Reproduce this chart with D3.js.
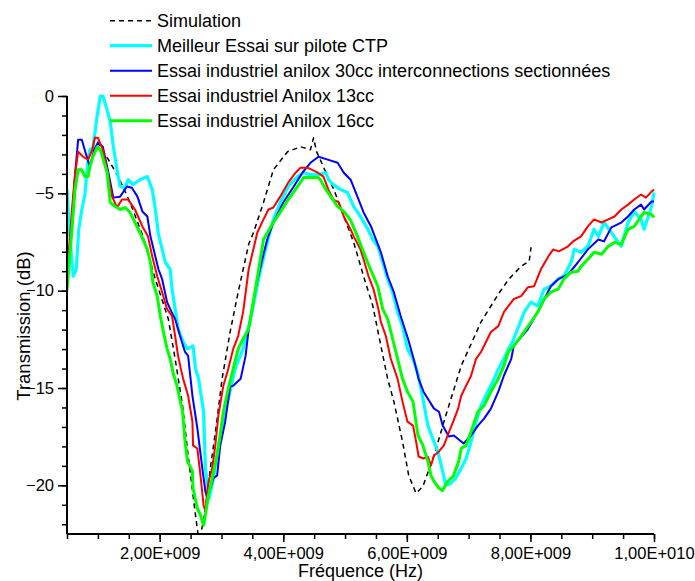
<!DOCTYPE html>
<html>
<head>
<meta charset="utf-8">
<script src="https://cdn.jsdelivr.net/npm/d3@7"></script>
<style>
  html, body { margin: 0; padding: 0; background: #fff; }
  svg { display: block; font-family: "Liberation Sans", Arial, sans-serif; }
</style>
</head>
<body>
<svg id="chart" width="695" height="581"></svg>
<script>
// ---- Data (frequency in GHz, transmission in dB) ----
const seriesNames = [
  "Simulation",
  "Meilleur Essai sur pilote CTP",
  "Essai industriel anilox 30cc interconnections sectionnées",
  "Essai industriel Anilox 13cc",
  "Essai industriel Anilox 16cc"
];

const simulation = [
  [0.99,-2.35],[1.17,-3.27],[1.33,-4.14],[1.52,-5.47],[1.73,-7.21],[1.93,-9.41],[2.14,-11.46],
  [2.25,-13.5],[2.37,-15.91],[2.46,-18.47],[2.58,-21.54],[2.64,-22.97],[2.74,-21.2],[2.82,-19.13],
  [2.92,-16.83],[3.01,-14.53],[3.14,-12.12],[3.27,-10.08],[3.44,-7.62],[3.52,-7.0],[3.68,-5.47],
  [3.84,-3.79],[4.07,-2.86],[4.28,-2.61],[4.44,-2.76],[4.49,-2.15],[4.54,-2.86],[4.72,-4.14],
  [4.82,-4.81],[4.98,-6.19],[5.14,-7.52],[5.30,-9.26],[5.45,-10.79],[5.58,-12.84],[5.69,-14.53],
  [5.79,-15.7],[5.93,-17.75],[6.03,-19.49],[6.15,-20.41],[6.26,-20.05],[6.44,-18.47],[6.63,-16.42],
  [6.88,-13.86],[7.2,-11.61],[7.48,-10.18],[7.65,-9.41],[7.85,-8.75],[7.98,-8.49],[8.01,-7.77]
];

const piloteCTP = [
  [0.50,-4.81],[0.55,-7.37],[0.60,-9.26],[0.65,-8.90],[0.69,-6.85],[0.74,-5.83],[0.79,-5.06],
  [0.84,-3.27],[0.87,-2.76],[0.92,-2.66],[0.99,-0.97],[1.04,0],[1.08,0],[1.15,-0.72],[1.20,-1.33],
  [1.25,-2.61],[1.31,-3.79],[1.36,-4.65],[1.44,-4.71],[1.49,-4.30],[1.57,-4.55],[1.68,-4.30],
  [1.80,-4.14],[1.88,-4.81],[1.93,-5.83],[1.98,-7.11],[2.04,-7.88],[2.09,-8.54],[2.17,-8.90],
  [2.20,-9.92],[2.25,-10.95],[2.30,-11.97],[2.38,-12.63],[2.45,-12.99],[2.54,-12.84],[2.58,-14.02],
  [2.63,-14.53],[2.71,-16.22],[2.74,-19.13],[2.80,-20.66],[2.87,-19.64],[2.93,-18.36],[3.01,-16.83],
  [3.11,-15.55],[3.23,-13.91],[3.35,-12.99],[3.47,-11.46],[3.60,-9.41],[3.74,-7.52],[3.84,-6.34],
  [3.95,-5.47],[4.08,-4.65],[4.23,-4.14],[4.33,-3.94],[4.44,-4.04],[4.56,-4.04],[4.69,-3.94],
  [4.73,-4.30],[4.81,-4.55],[4.93,-4.81],[5.04,-4.96],[5.14,-5.68],[5.25,-6.19],[5.37,-6.85],
  [5.45,-7.37],[5.53,-7.72],[5.61,-8.54],[5.69,-9.41],[5.77,-10.08],[5.85,-11.10],[5.93,-11.82],
  [6.01,-12.99],[6.10,-13.50],[6.18,-14.27],[6.26,-15.55],[6.34,-16.93],[6.42,-17.60],[6.50,-18.26],
  [6.58,-19.28],[6.63,-20.00],[6.71,-19.90],[6.79,-19.64],[6.88,-19.13],[6.96,-18.62],[7.04,-17.75],
  [7.12,-16.73],[7.20,-15.91],[7.31,-15.19],[7.39,-14.68],[7.48,-14.02],[7.57,-13.50],[7.73,-12.48],
  [7.90,-11.10],[8.01,-10.59],[8.12,-10.79],[8.22,-9.92],[8.33,-9.77],[8.45,-9.41],[8.54,-9.26],
  [8.66,-8.54],[8.71,-7.88],[8.82,-8.03],[8.93,-7.72],[9.03,-6.85],[9.10,-7.21],[9.19,-6.50],
  [9.31,-7.01],[9.42,-7.52],[9.47,-7.72],[9.58,-6.50],[9.68,-5.93],[9.79,-6.34],[9.84,-6.85],
  [9.96,-5.68],[10.0,-4.96]
];

const anilox30 = [
  [0.50,-9.26],[0.58,-6.34],[0.63,-4.04],[0.68,-2.25],[0.74,-2.25],[0.81,-3.02],[0.87,-3.63],
  [0.94,-2.76],[1.00,-2.40],[1.08,-2.61],[1.17,-3.94],[1.25,-5.22],[1.36,-5.17],[1.47,-4.65],
  [1.55,-4.71],[1.64,-5.17],[1.72,-5.93],[1.80,-6.19],[1.85,-7.21],[1.93,-8.24],[1.98,-8.90],
  [2.04,-9.41],[2.12,-10.59],[2.17,-10.95],[2.25,-11.46],[2.33,-12.33],[2.41,-13.15],[2.46,-13.35],
  [2.53,-15.40],[2.61,-17.08],[2.69,-19.13],[2.74,-20.31],[2.77,-20.66],[2.82,-20.15],[2.87,-19.64],
  [2.93,-19.49],[2.98,-17.95],[3.06,-16.73],[3.14,-14.94],[3.19,-14.88],[3.31,-14.53],[3.39,-13.35],
  [3.44,-11.97],[3.55,-9.92],[3.66,-8.39],[3.74,-7.37],[3.84,-6.50],[4.00,-5.47],[4.17,-4.65],
  [4.31,-3.94],[4.44,-3.43],[4.57,-3.12],[4.72,-3.27],[4.88,-3.43],[4.98,-3.94],[5.09,-4.30],
  [5.20,-5.17],[5.30,-5.98],[5.42,-6.70],[5.50,-7.37],[5.58,-8.03],[5.69,-9.26],[5.79,-10.08],
  [5.90,-11.30],[6.02,-12.48],[6.11,-13.50],[6.19,-14.53],[6.27,-15.19],[6.44,-16.06],[6.52,-16.22],
  [6.58,-16.93],[6.68,-17.49],[6.76,-17.44],[6.92,-17.85],[7.04,-17.44],[7.15,-16.93],[7.25,-16.57],
  [7.36,-16.06],[7.48,-15.19],[7.57,-14.37],[7.69,-13.50],[7.73,-12.84],[7.96,-11.97],[8.17,-10.79],
  [8.33,-9.77],[8.45,-9.41],[8.61,-9.16],[8.77,-8.54],[8.93,-7.88],[9.10,-7.37],[9.19,-7.47],
  [9.31,-6.75],[9.47,-6.50],[9.58,-6.19],[9.68,-5.83],[9.79,-5.58],[9.84,-5.83],[9.96,-5.42],[10.0,-5.42]
];

const anilox13 = [
  [0.50,-9.41],[0.58,-5.83],[0.63,-4.04],[0.68,-2.86],[0.76,-3.12],[0.84,-3.27],[0.91,-2.76],
  [0.95,-2.15],[1.00,-2.15],[1.08,-2.76],[1.15,-3.79],[1.23,-5.17],[1.31,-5.73],[1.39,-5.32],
  [1.49,-5.32],[1.60,-5.83],[1.72,-6.70],[1.81,-7.21],[1.88,-8.24],[1.96,-9.26],[2.04,-10.08],
  [2.12,-10.95],[2.20,-11.30],[2.25,-12.33],[2.30,-13.40],[2.38,-14.53],[2.46,-15.40],[2.53,-16.73],
  [2.54,-17.95],[2.61,-18.11],[2.66,-19.49],[2.71,-21.02],[2.74,-21.33],[2.79,-19.80],[2.85,-19.13],
  [2.90,-17.95],[2.95,-16.42],[3.03,-14.88],[3.11,-14.02],[3.19,-12.99],[3.27,-12.33],[3.35,-11.10],
  [3.44,-8.90],[3.58,-7.01],[3.68,-6.34],[3.76,-5.83],[3.84,-5.73],[3.95,-5.17],[4.08,-4.45],
  [4.20,-3.94],[4.28,-3.68],[4.39,-3.68],[4.56,-3.94],[4.65,-4.14],[4.73,-4.81],[4.81,-5.32],
  [4.90,-5.47],[4.98,-6.19],[5.09,-6.85],[5.14,-7.21],[5.25,-7.88],[5.30,-8.39],[5.38,-9.26],
  [5.46,-9.92],[5.54,-10.95],[5.58,-11.61],[5.66,-12.33],[5.74,-13.50],[5.85,-14.53],[5.93,-15.70],
  [6.01,-16.73],[6.10,-16.93],[6.15,-17.75],[6.19,-18.52],[6.27,-18.62],[6.34,-18.52],[6.39,-18.98],
  [6.44,-18.47],[6.52,-18.26],[6.60,-17.95],[6.66,-17.44],[6.75,-16.73],[6.83,-16.06],[6.88,-15.40],
  [6.96,-14.88],[7.04,-14.37],[7.12,-13.50],[7.20,-13.15],[7.36,-12.12],[7.48,-11.82],[7.57,-11.10],
  [7.73,-10.43],[7.85,-10.28],[7.96,-9.82],[8.06,-9.77],[8.17,-8.90],[8.29,-8.24],[8.37,-7.88],
  [8.46,-7.98],[8.61,-7.72],[8.69,-7.47],[8.82,-7.21],[8.93,-6.70],[9.03,-6.34],[9.15,-6.50],
  [9.26,-6.34],[9.36,-6.19],[9.47,-5.83],[9.58,-5.58],[9.68,-5.32],[9.79,-5.06],[9.87,-5.22],
  [9.96,-4.91],[10.0,-4.81]
];

const anilox16 = [
  [0.50,-9.97],[0.58,-6.85],[0.63,-4.81],[0.68,-3.79],[0.74,-3.79],[0.79,-4.14],[0.84,-4.14],
  [0.87,-3.63],[0.92,-3.12],[0.99,-2.61],[1.04,-2.76],[1.15,-3.94],[1.20,-5.47],[1.28,-5.68],
  [1.36,-5.83],[1.44,-5.73],[1.52,-5.98],[1.60,-6.50],[1.68,-7.01],[1.80,-7.88],[1.85,-8.54],
  [1.89,-9.57],[1.96,-10.28],[2.01,-11.30],[2.06,-12.12],[2.12,-12.99],[2.17,-13.50],[2.22,-14.27],
  [2.28,-14.88],[2.37,-16.22],[2.41,-17.75],[2.45,-18.77],[2.53,-19.28],[2.54,-20.15],[2.61,-21.18],
  [2.66,-21.53],[2.71,-22.05],[2.74,-21.53],[2.79,-20.51],[2.85,-19.64],[2.93,-18.47],[2.98,-17.44],
  [3.03,-16.22],[3.11,-15.04],[3.19,-14.02],[3.27,-12.99],[3.35,-12.48],[3.44,-11.97],[3.55,-9.92],
  [3.68,-7.37],[3.84,-6.50],[3.95,-5.98],[4.08,-5.32],[4.23,-4.65],[4.33,-4.19],[4.56,-4.19],
  [4.60,-4.30],[4.69,-4.81],[4.77,-5.17],[4.88,-5.68],[4.98,-5.93],[5.09,-6.39],[5.20,-7.21],
  [5.30,-8.03],[5.41,-8.90],[5.53,-9.77],[5.61,-10.95],[5.69,-11.46],[5.77,-12.48],[5.85,-13.50],
  [5.93,-14.53],[6.01,-15.19],[6.10,-15.70],[6.18,-17.44],[6.26,-17.95],[6.34,-18.77],[6.39,-19.49],
  [6.44,-19.80],[6.52,-20.15],[6.58,-20.26],[6.66,-19.80],[6.75,-19.54],[6.84,-18.77],[6.88,-18.11],
  [6.96,-17.95],[7.04,-17.24],[7.15,-16.22],[7.25,-15.91],[7.36,-15.19],[7.48,-14.53],[7.57,-13.86],
  [7.64,-13.15],[7.73,-12.84],[7.85,-12.33],[8.01,-11.61],[8.12,-11.10],[8.22,-10.43],[8.33,-10.08],
  [8.45,-9.92],[8.54,-9.41],[8.66,-9.05],[8.77,-9.00],[8.82,-8.75],[8.93,-8.39],[9.03,-8.03],
  [9.15,-8.13],[9.26,-7.72],[9.36,-7.52],[9.47,-7.62],[9.58,-6.85],[9.68,-6.70],[9.79,-6.19],
  [9.84,-5.98],[9.96,-6.09],[10.0,-6.24]
];

const xTicksMajor = [2, 4, 6, 8, 10];       // GHz
const yTicksMajor = [0, -5, -10, -15, -20]; // dB
const xLabel = "Fréquence (Hz)";
const yLabel = "Transmission (dB)";

// ---- Layout ----
const svg = d3.select("#chart");
const mLeft = 67, mRight = 654, mTop = 96, mBottom = 534;

const x = d3.scaleLinear().domain([0.5, 10]).range([mLeft, mRight]);
const y = d3.scaleLinear().domain([-22.5, 0]).range([mBottom, mTop]);

function sciLabel(ghz) {
  const v = ghz * 1e9;
  const e = Math.floor(Math.log10(v) + 1e-9);
  const m = v / Math.pow(10, e);
  return m.toFixed(2).replace(".", ",") + "E+" + String(e).padStart(3, "0");
}

svg.append("defs").append("clipPath").attr("id", "plotclip")
  .append("rect").attr("x", mLeft).attr("y", mTop - 2)
  .attr("width", mRight - mLeft + 2).attr("height", mBottom - mTop + 2);

const line = d3.line().x(d => x(d[0])).y(d => y(d[1]));

const series = [
  { data: simulation, color: "#000000", width: 1.5, dash: "5,4" },
  { data: piloteCTP, color: "#00FFFF", width: 3.2, dash: null },
  { data: anilox30, color: "#0000FF", width: 2, dash: null },
  { data: anilox13, color: "#FF0000", width: 2, dash: null },
  { data: anilox16, color: "#00FF00", width: 3, dash: null }
];

const plot = svg.append("g").attr("clip-path", "url(#plotclip)");
series.forEach(s => {
  plot.append("path")
    .datum(s.data)
    .attr("d", line)
    .attr("fill", "none")
    .attr("stroke", s.color)
    .attr("stroke-width", s.width)
    .attr("stroke-linejoin", "round")
    .attr("stroke-dasharray", s.dash);
});

// ---- Axes ----
const xMinor = d3.range(0.5, 10.001, 0.5);
const yMinor = d3.range(0, -22.001, -1);

const xAxisMinor = d3.axisBottom(x).tickValues(xMinor).tickSize(5).tickFormat("");
const xAxis = d3.axisBottom(x).tickValues(xTicksMajor).tickSize(8).tickPadding(5).tickFormat(sciLabel);
const yAxisMinor = d3.axisLeft(y).tickValues(yMinor).tickSize(5).tickFormat("");
const yAxis = d3.axisLeft(y).tickValues(yTicksMajor).tickSize(9).tickPadding(4).tickFormat(d3.format("d"));

function styleAxis(g) {
  g.select(".domain").remove();
  g.selectAll("line").attr("stroke", "#000").attr("stroke-width", 1.5);
  g.selectAll("text").attr("fill", "#000").style("font-size", "16.5px")
    .style("font-family", '"Liberation Sans", Arial, sans-serif');
}

svg.append("g").attr("transform", `translate(0,${mBottom})`).call(xAxisMinor).call(styleAxis);
svg.append("g").attr("transform", `translate(0,${mBottom})`).call(xAxis).call(styleAxis);
svg.append("g").attr("transform", `translate(${mLeft},0)`).call(yAxisMinor).call(styleAxis);
svg.append("g").attr("transform", `translate(${mLeft},0)`).call(yAxis).call(styleAxis);

// axis lines
svg.append("line").attr("x1", mLeft).attr("x2", mRight).attr("y1", mBottom).attr("y2", mBottom)
  .attr("stroke", "#000").attr("stroke-width", 2);
svg.append("line").attr("x1", mLeft).attr("x2", mLeft).attr("y1", mTop).attr("y2", mBottom)
  .attr("stroke", "#000").attr("stroke-width", 2);

// axis titles
svg.append("text").attr("x", (mLeft + mRight) / 2).attr("y", 577)
  .attr("text-anchor", "middle").style("font-size", "18px").text(xLabel);
svg.append("text").attr("transform", `translate(30,326) rotate(-90)`)
  .attr("text-anchor", "middle").style("font-size", "18.5px").text(yLabel);

// ---- Legend ----
const legend = svg.append("g");
series.forEach((s, i) => {
  const ly = 20.7 + i * 25;
  legend.append("line")
    .attr("x1", 110).attr("x2", 152).attr("y1", ly).attr("y2", ly)
    .attr("stroke", s.color).attr("stroke-width", s.width)
    .attr("stroke-dasharray", s.dash);
  legend.append("text").attr("x", 157).attr("y", ly + 6.5)
    .style("font-size", "18px").attr("fill", "#000").text(seriesNames[i]);
});
</script>
</body>
</html>
